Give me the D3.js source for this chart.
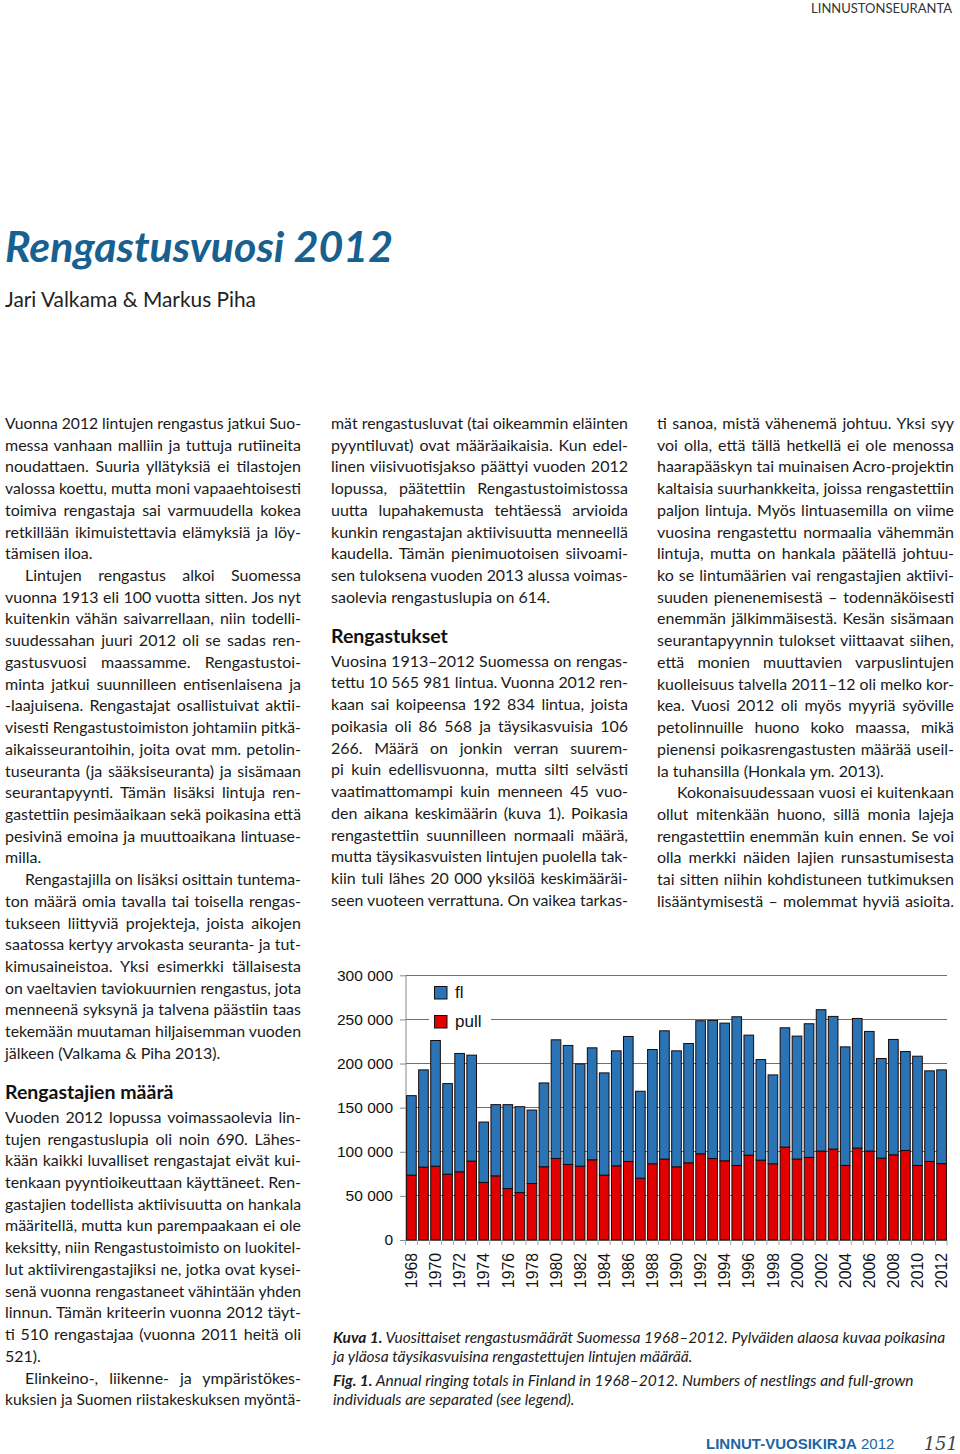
<!DOCTYPE html>
<html><head><meta charset="utf-8">
<script src="https://cdn.jsdelivr.net/npm/d3@7"></script>
<style>
html,body{margin:0;padding:0;background:#fff;}
svg{display:block;}
</style></head>
<body>
<svg id="page" width="960" height="1454"></svg>
<script>
// ---------------- DATA ----------------
const years = d3.range(1968, 2013);
const pull = [73500,82600,83700,74600,77300,89400,65200,72700,58300,53800,64000,83000,92400,85600,83700,90900,73500,84100,89000,70100,86400,91700,83000,87500,97700,92400,89800,84500,96200,90500,86400,105300,91700,93600,100800,103000,84500,104200,100800,92800,96600,101500,84500,89000,86568];
const fl = [90100,110200,142400,102700,134100,120100,68500,80700,95100,97300,83300,95000,134500,134900,115900,126900,115900,130300,141700,98500,129500,145400,131400,135200,150800,156500,156000,168500,136000,114000,100700,135200,139400,151500,160200,150400,134400,146900,135600,112900,130700,112100,123800,102700,106266];
const yTicks = [0,50000,100000,150000,200000,250000,300000];
const seriesNames = ["fl","pull"];

const headerText = "LINNUSTONSEURANTA";
const titleText = "Rengastusvuosi 2012";
const authorsText = "Jari Valkama & Markus Piha";

const col1 = [
 {p:true, indent:false, cont:false, lines:[
  "Vuonna 2012 lintujen rengastus jatkui Suo-",
  "messa vanhaan malliin ja tuttuja rutiineita",
  "noudattaen. Suuria yllätyksiä ei tilastojen",
  "valossa koettu, mutta moni vapaaehtoisesti",
  "toimiva rengastaja sai varmuudella kokea",
  "retkillään ikimuistettavia elämyksiä ja löy-",
  "tämisen iloa."]},
 {p:true, indent:true, cont:false, lines:[
  "Lintujen rengastus alkoi Suomessa",
  "vuonna 1913 eli 100 vuotta sitten. Jos nyt",
  "kuitenkin vähän saivarrellaan, niin todelli-",
  "suudessahan juuri 2012 oli se sadas ren-",
  "gastusvuosi maassamme. Rengastustoi-",
  "minta jatkui suunnilleen entisenlaisena ja",
  "-laajuisena. Rengastajat osallistuivat aktii-",
  "visesti Rengastustoimiston johtamiin pitkä-",
  "aikaisseurantoihin, joita ovat mm. petolin-",
  "tuseuranta (ja sääksiseuranta) ja sisämaan",
  "seurantapyynti. Tämän lisäksi lintuja ren-",
  "gastettiin pesimäaikaan sekä poikasina että",
  "pesivinä emoina ja muuttoaikana lintuase-",
  "milla."]},
 {p:true, indent:true, cont:false, lines:[
  "Rengastajilla on lisäksi osittain tuntema-",
  "ton määrä omia tavalla tai toisella rengas-",
  "tukseen liittyviä projekteja, joista aikojen",
  "saatossa kertyy arvokasta seuranta- ja tut-",
  "kimusaineistoa. Yksi esimerkki tällaisesta",
  "on vaeltavien taviokuurnien rengastus, jota",
  "menneenä syksynä ja talvena päästiin taas",
  "tekemään muutaman hiljaisemman vuoden",
  "jälkeen (Valkama & Piha 2013)."]},
 {h:"Rengastajien määrä"},
 {p:true, indent:false, cont:false, lines:[
  "Vuoden 2012 lopussa voimassaolevia lin-",
  "tujen rengastuslupia oli noin 690. Lähes-",
  "kään kaikki luvalliset rengastajat eivät kui-",
  "tenkaan pyyntioikeuttaan käyttäneet. Ren-",
  "gastajien todellista aktiivisuutta on hankala",
  "määritellä, mutta kun parempaakaan ei ole",
  "keksitty, niin Rengastustoimisto on luokitel-",
  "lut aktiivirengastajiksi ne, jotka ovat kysei-",
  "senä vuonna rengastaneet vähintään yhden",
  "linnun. Tämän kriteerin vuonna 2012 täyt-",
  "ti 510 rengastajaa (vuonna 2011 heitä oli",
  "521)."]},
 {p:true, indent:true, cont:true, lines:[
  "Elinkeino-, liikenne- ja ympäristökes-",
  "kuksien ja Suomen riistakeskuksen myöntä-"]}
];
const col2 = [
 {p:true, indent:false, cont:false, lines:[
  "mät rengastusluvat (tai oikeammin eläinten",
  "pyyntiluvat) ovat määräaikaisia. Kun edel-",
  "linen viisivuotisjakso päättyi vuoden 2012",
  "lopussa, päätettiin Rengastustoimistossa",
  "uutta lupahakemusta tehtäessä arvioida",
  "kunkin rengastajan aktiivisuutta menneellä",
  "kaudella. Tämän pienimuotoisen siivoami-",
  "sen tuloksena vuoden 2013 alussa voimas-",
  "saolevia rengastuslupia on 614."]},
 {h:"Rengastukset"},
 {p:true, indent:false, cont:true, lines:[
  "Vuosina 1913–2012 Suomessa on rengas-",
  "tettu 10 565 981 lintua. Vuonna 2012 ren-",
  "kaan sai koipeensa 192 834 lintua, joista",
  "poikasia oli 86 568 ja täysikasvuisia 106",
  "266. Määrä on jonkin verran suurem-",
  "pi kuin edellisvuonna, mutta silti selvästi",
  "vaatimattomampi kuin menneen 45 vuo-",
  "den aikana keskimäärin (kuva 1). Poikasia",
  "rengastettiin suunnilleen normaali määrä,",
  "mutta täysikasvuisten lintujen puolella tak-",
  "kiin tuli lähes 20 000 yksilöä keskimääräi-",
  "seen vuoteen verrattuna. On vaikea tarkas-"]}
];
const col3 = [
 {p:true, indent:false, cont:false, lines:[
  "ti sanoa, mistä vähenemä johtuu. Yksi syy",
  "voi olla, että tällä hetkellä ei ole menossa",
  "haarapääskyn tai muinaisen Acro-projektin",
  "kaltaisia suurhankkeita, joissa rengastettiin",
  "paljon lintuja. Myös lintuasemilla on viime",
  "vuosina rengastettu normaalia vähemmän",
  "lintuja, mutta on hankala päätellä johtuu-",
  "ko se lintumäärien vai rengastajien aktiivi-",
  "suuden pienenemisestä – todennäköisesti",
  "enemmän jälkimmäisestä. Kesän sisämaan",
  "seurantapyynnin tulokset viittaavat siihen,",
  "että monien muuttavien varpuslintujen",
  "kuolleisuus talvella 2011–12 oli melko kor-",
  "kea. Vuosi 2012 oli myös myyriä syöville",
  "petolinnuille huono koko maassa, mikä",
  "pienensi poikasrengastusten määrää useil-",
  "la tuhansilla (Honkala ym. 2013)."]},
 {p:true, indent:true, cont:true, lines:[
  "Kokonaisuudessaan vuosi ei kuitenkaan",
  "ollut mitenkään huono, sillä monia lajeja",
  "rengastettiin enemmän kuin ennen. Se voi",
  "olla merkki näiden lajien runsastumisesta",
  "tai sitten niihin kohdistuneen tutkimuksen",
  "lisääntymisestä – molemmat hyviä asioita."]}
];
const captionLines = [
 ["Kuva 1.", " Vuosittaiset rengastusmäärät Suomessa 1968–2012. Pylväiden alaosa kuvaa poikasina"],
 ["", "ja yläosa täysikasvuisina rengastettujen lintujen määrää."],
 ["Fig. 1.", " Annual ringing totals in Finland in 1968–2012. Numbers of nestlings and full-grown"],
 ["", "individuals are separated (see legend)."]
];
const footerBold = "LINNUT-VUOSIKIRJA";
const footerYear = " 2012";
const pageNo = "151";

// ---------------- DRAW ----------------
const svg = d3.select("#page");
const BODY = "Lato, 'Open Sans', sans-serif";
const HELV = "'Liberation Sans', Arial, sans-serif";
const BLUE_T = "#17608f";

svg.append("text").attr("x", 952).attr("y", 13).attr("text-anchor","end")
  .attr("font-family", BODY).attr("font-size", 13).attr("fill","#333").text(headerText);

svg.append("text").attr("x", 5).attr("y", 262)
  .attr("font-family", BODY).attr("font-weight", 700).attr("font-style","italic")
  .attr("font-size", 42).attr("fill", BLUE_T)
  .attr("textLength", 388).attr("lengthAdjust","spacingAndGlyphs").text(titleText);

svg.append("text").attr("x", 5).attr("y", 307)
  .attr("font-family", BODY).attr("font-size", 21).attr("fill","#222")
  .attr("textLength", 251).attr("lengthAdjust","spacingAndGlyphs").text(authorsText);

const LH = 21.72;
function drawColumn(blocks, x0, x1, y0) {
  let y = y0;
  const w = x1 - x0;
  blocks.forEach((b) => {
    if (b.h) {
      y = y - LH + 40;
      svg.append("text").attr("x", x0).attr("y", y)
        .attr("font-family", BODY).attr("font-weight", 700).attr("font-size", 19.5)
        .attr("fill","#111").text(b.h);
      y += 24;
      return;
    }
    b.lines.forEach((ln, i) => {
      const ind = (b.indent && i === 0) ? 20 : 0;
      const t = svg.append("text").attr("x", x0 + ind).attr("y", y)
        .attr("font-family", BODY).attr("font-size", 16).attr("fill","#1a1a1a")
        .text(ln);
      const last = i === b.lines.length - 1;
      const justify = !last || b.cont;
      const nat = t.node().getComputedTextLength();
      const target = w - ind;
      const spaces = (ln.match(/ /g) || []).length;
      if (nat > target) {
        t.attr("textLength", target).attr("lengthAdjust","spacingAndGlyphs");
      } else if (justify) {
        if (spaces > 0) {
          t.style("word-spacing", ((target - nat) / spaces) + "px");
        } else {
          t.attr("textLength", target).attr("lengthAdjust","spacing");
        }
      }
      y += LH;
    });
  });
}
drawColumn(col1, 5, 301, 429);
drawColumn(col2, 331, 628, 429);
drawColumn(col3, 657, 954, 429);

// ---------------- CHART ----------------
const X0 = 406, X1 = 947, Y0 = 1240, Y1 = 975.3;
const x = d3.scaleBand().domain(years).range([X0, X1]).paddingInner(0.2).paddingOuter(0.05);
const y = d3.scaleLinear().domain([0, 300000]).range([Y0, Y1]);
const fmt = d3.formatLocale({decimal:",", thousands:"\u00a0", grouping:[3], currency:["",""]}).format(",");

const g = svg.append("g");
// gridlines
g.append("g").selectAll("line").data(yTicks.filter(d => d > 0)).join("line")
  .attr("x1", X0).attr("x2", X1).attr("y1", d => y(d)).attr("y2", d => y(d))
  .attr("stroke", "#6e6e6e").attr("stroke-width", 1).attr("shape-rendering","crispEdges");

// y axis
const yAxis = g.append("g").attr("transform", `translate(${X0},0)`)
  .call(d3.axisLeft(y).tickValues(yTicks).tickSize(6).tickPadding(7).tickFormat(d => d === 0 ? "0" : fmt(d)));
yAxis.select(".domain").attr("stroke", "#888").attr("d", `M0,${Y1}V${Y0}`);
yAxis.selectAll(".tick line").attr("stroke", "#888");
yAxis.selectAll("text").attr("font-family", HELV).attr("font-size", 15.5).attr("fill","#111");

// x axis baseline and ticks between bars
g.append("line").attr("x1", X0).attr("x2", X1).attr("y1", Y0).attr("y2", Y0)
  .attr("stroke", "#999").attr("shape-rendering","crispEdges");
const step = x.step();
g.append("g").selectAll("line").data(years.concat([2013])).join("line")
  .attr("x1", d => Math.min(X1, x(1968) - step * x.paddingInner() / 2 + (d - 1968) * step))
  .attr("x2", d => Math.min(X1, x(1968) - step * x.paddingInner() / 2 + (d - 1968) * step))
  .attr("y1", Y0).attr("y2", Y0 + 5).attr("stroke", "#aaa");

// stacked bars
const rows = years.map((yr, i) => ({year: yr, pull: pull[i], fl: fl[i]}));
const stack = d3.stack().keys(["pull", "fl"])(rows);
const colors = {pull: "#e00000", fl: "#2a73b5"};
g.append("g").selectAll("g").data(stack).join("g")
  .attr("fill", d => colors[d.key])
  .selectAll("rect").data(d => d).join("rect")
  .attr("x", d => x(d.data.year)).attr("width", x.bandwidth())
  .attr("y", d => y(d[1])).attr("height", d => y(d[0]) - y(d[1]))
  .attr("stroke", "#1a0a0a").attr("stroke-width", 1);

// x labels
const xAxis = g.append("g").attr("transform", `translate(0,${Y0})`)
  .call(d3.axisBottom(x).tickValues(years.filter(d => d % 2 === 0)).tickSize(0).tickPadding(0));
xAxis.select(".domain").remove();
xAxis.selectAll("text")
  .attr("font-family", HELV).attr("font-size", 15.8).attr("fill","#111")
  .attr("text-anchor","end").attr("transform","rotate(-90)")
  .attr("x", -13).attr("y", 0).attr("dy", "0.36em");

// legend
const lg = g.append("g");
lg.append("rect").attr("x", 429).attr("y", 980).attr("width", 62).attr("height", 52).attr("fill","#fff");
seriesNames.forEach((s, i) => {
  lg.append("rect").attr("x", 434.5).attr("y", 986.5 + i * 29).attr("width", 12.5).attr("height", 12.5)
    .attr("fill", colors[s]).attr("stroke", "#111");
  lg.append("text").attr("x", 455).attr("y", 998 + i * 29)
    .attr("font-family", HELV).attr("font-size", 17).attr("fill","#111").text(s);
});

// caption
captionLines.forEach((c, i) => {
  const t = svg.append("text").attr("x", 333).attr("y", [1343, 1362, 1386, 1405][i])
    .attr("font-family", BODY).attr("font-style","italic").attr("font-size", 15.5).attr("fill","#1a1a1a");
  if (c[0]) t.append("tspan").attr("font-weight", 700).text(c[0]);
  t.append("tspan").text(c[1]);
});

// footer
const ft = svg.append("text").attr("x", 706).attr("y", 1449)
  .attr("font-family", HELV).attr("font-size", 15).attr("fill", "#1d66a3");
ft.append("tspan").attr("font-weight", 700).text(footerBold);
ft.append("tspan").text(footerYear);
svg.append("text").attr("x", 958).attr("y", 1450).attr("text-anchor","end")
  .attr("font-family", "'DejaVu Serif', serif").attr("font-style","italic").attr("font-size", 18)
  .attr("fill","#444").text(pageNo);
</script>
</body></html>
